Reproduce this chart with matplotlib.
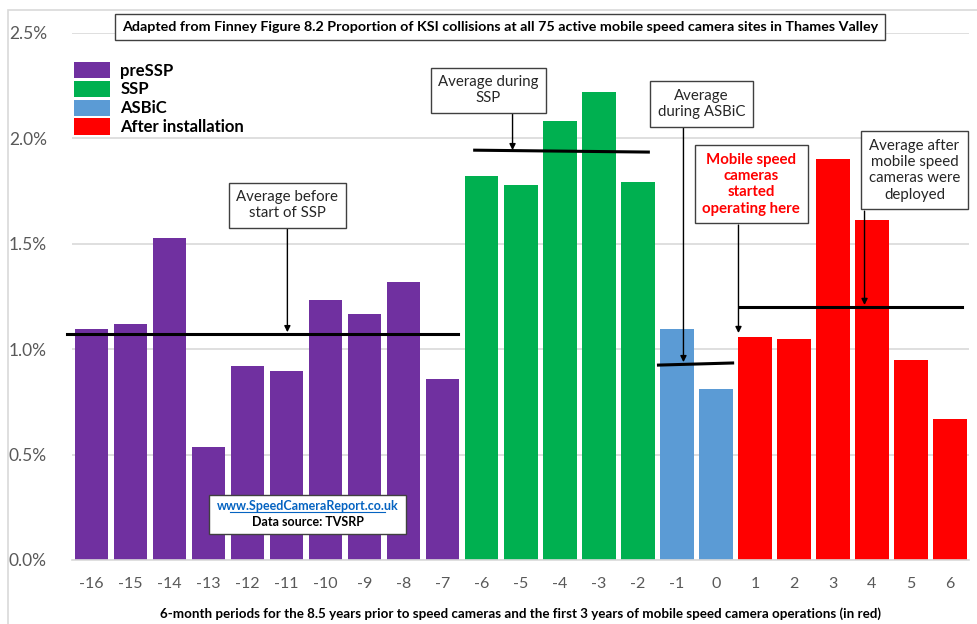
import numpy as np
import matplotlib
matplotlib.use("Agg")
import matplotlib.pyplot as plt
from matplotlib.patches import Patch, Rectangle
from matplotlib.ticker import FuncFormatter

plt.rcParams["font.family"] = ["Lato", "DejaVu Sans"]
plt.rcParams["axes.unicode_minus"] = False

# six-month periods and KSI proportion (%)
periods = list(range(-16, 7))
ksi_pct = [1.095, 1.118, 1.526, 0.536, 0.919, 0.896, 1.232, 1.166, 1.317, 0.858,
           1.82, 1.78, 2.08, 2.22, 1.79,
           1.095, 0.81,
           1.057, 1.047, 1.90, 1.61, 0.948, 0.668]
phases = ["preSSP"] * 10 + ["SSP"] * 5 + ["ASBiC"] * 2 + ["After installation"] * 6

phase_names = ["preSSP", "SSP", "ASBiC", "After installation"]
phase_colors = {"preSSP": "#7030A0", "SSP": "#00B050",
                "ASBiC": "#5B9BD5", "After installation": "#FF0000"}

# phase averages: (x start, x end, y start, y end)
avg_lines = [(-16.64, -6.62, 1.071, 1.071),
             (-6.18, -1.73, 1.943, 1.934),
             (-1.47, 0.43, 0.924, 0.934),
             (0.61, 6.32, 1.199, 1.199)]

fig = plt.figure(figsize=(9.78, 6.24), dpi=100)
ax = fig.add_axes([0.0736, 0.1026, 0.9177, 0.845])

# light outer frame
fig.patches.append(Rectangle((8 / 978, -0.01), 1.0, 1 - 10 / 624 + 0.01,
                             transform=fig.transFigure, fill=False,
                             edgecolor="#d9d9d9", linewidth=1.2))

ax.bar(periods, ksi_pct, width=0.86,
       color=[phase_colors[p] for p in phases], zorder=2)

ax.set_xlim(-16.5, 6.5)
ax.set_ylim(0, 2.5)
ax.set_yticks(np.arange(0, 2.51, 0.5))
ax.yaxis.set_major_formatter(FuncFormatter(lambda v, _: f"{v:.1f}%"))
ax.set_xticks(periods)
ax.tick_params(axis="y", length=0, labelsize=12.5, labelcolor="#595959", pad=18)
ax.tick_params(axis="x", length=0, labelsize=11.5, labelcolor="#595959", pad=12)
ax.grid(axis="y", color="#d9d9d9", linewidth=1.2, zorder=0)
for s in ["top", "right", "left"]:
    ax.spines[s].set_visible(False)
ax.spines["bottom"].set_color("#d9d9d9")
ax.spines["bottom"].set_linewidth(1.2)
ax.set_xlabel("6-month periods for the 8.5 years prior to speed cameras and the "
              "first 3 years of mobile speed camera operations (in red)",
              fontsize=9.6, fontweight="bold", labelpad=12)

for x0, x1, y0, y1 in avg_lines:
    ax.plot([x0, x1], [y0, y1], color="black", linewidth=2.2, zorder=4,
            clip_on=False)

box = dict(boxstyle="square,pad=0.5", facecolor="white",
           edgecolor="#404040", linewidth=1.0)
arrow = dict(arrowstyle="-|>", color="black", linewidth=1.0,
             mutation_scale=9, shrinkA=0, shrinkB=0)

# (text, box x, box y, arrow x, arrow top, arrow tip, text colour, weight)
notes = [("Average before\nstart of SSP", -10.98, 1.682, -10.98, 1.573, 1.08, "#262626", "normal"),
         ("Average during\nSSP", -5.83, 2.227, -5.21, 2.118, 1.943, "#262626", "normal"),
         ("Average\nduring ASBiC", -0.37, 2.161, -0.83, 2.052, 0.938, "#262626", "normal"),
         ("Mobile speed\ncameras\nstarted\noperating here", 0.91, 1.782, 0.58, 1.588, 1.076, "#FF0000", "bold"),
         ("Average after\nmobile speed\ncameras were\ndeployed", 5.09, 1.848, 3.81, 1.654, 1.209, "#262626", "normal")]
for txt, bx, by, axx, ytop, ytip, col, w in notes:
    ax.annotate("", xy=(axx, ytip), xytext=(axx, ytop), arrowprops=arrow, zorder=5)
    ax.text(bx, by, txt, ha="center", va="center", fontsize=10.8, color=col,
            fontweight=w, linespacing=1.22, bbox=box, zorder=6)

# source box
ax.add_patch(Rectangle((-13.0, 0.123), 5.05, 0.185, facecolor="white",
                       edgecolor="#404040", linewidth=1.0, zorder=6))
ax.text(-10.46, 0.256, "www.SpeedCameraReport.co.uk", ha="center", va="center",
        fontsize=9, fontweight="bold", color="#0563C1", zorder=7)
ax.plot([-12.45, -8.47], [0.226, 0.226], color="#0563C1", linewidth=0.8, zorder=7)
ax.text(-10.46, 0.178, "Data source: TVSRP", ha="center", va="center",
        fontsize=9, fontweight="bold", color="black", zorder=7)

# title box
fig.text(500 / 978, 1 - 27 / 624,
         "Adapted from Finney Figure 8.2 Proportion of KSI collisions at all 75 "
         "active mobile speed camera sites in Thames Valley",
         ha="center", va="center", fontsize=10.3, fontweight="bold",
         bbox=dict(boxstyle="square,pad=0.5", facecolor="white",
                   edgecolor="#404040", linewidth=1.0))

handles = [Patch(facecolor=phase_colors[p], edgecolor="none") for p in phase_names]
leg = ax.legend(handles, phase_names, loc="upper left",
                bbox_to_anchor=(62 / 978, 1 - 50 / 624),
                bbox_transform=fig.transFigure, frameon=False,
                prop={"weight": "bold", "size": 12}, handlelength=2.2,
                handleheight=1.15, labelspacing=0.12, handletextpad=0.6,
                borderpad=0.2)
leg.set_zorder(8)

fig.savefig("out.png", dpi=100)
